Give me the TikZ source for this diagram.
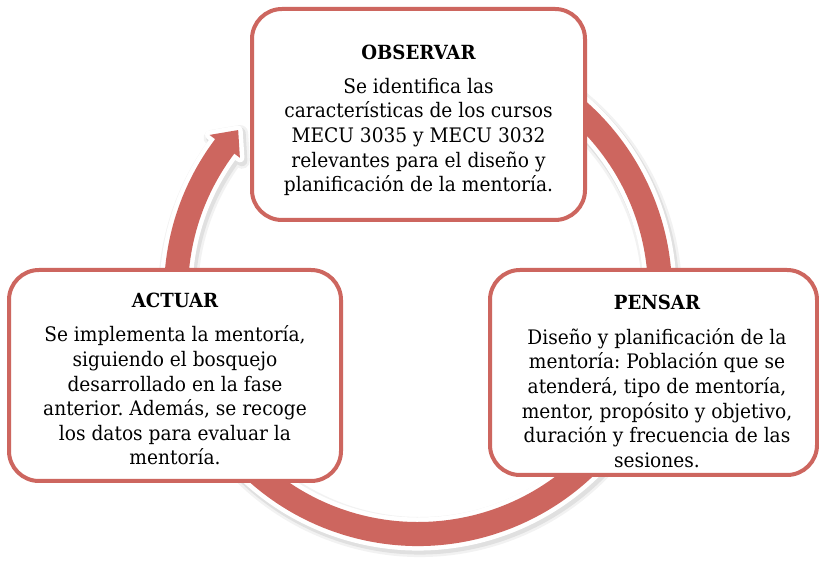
\documentclass[tikz,border=0pt]{standalone}
\usepackage{fontspec}
\setmainfont[FakeStretch=0.93]{DejaVu Serif}
\definecolor{ringred}{HTML}{CD665F}
\frenchspacing
\begin{document}
\frenchspacing
\begin{tikzpicture}[x=1pt,y=1pt,
  box/.style={draw=ringred, line width=4pt, rounded corners=30pt, fill=white, inner sep=0pt},
  txt/.style={align=center, font=\fontsize{20}{24.6}\selectfont\frenchspacing, inner sep=0pt},
  ringshape/.style={insert path={(70:254) arc[start angle=70,end angle=-217,radius=254] -- (-217:261) -- (-222:242) -- (-217:223) -- (-217:230) arc[start angle=-217,end angle=70,radius=230] -- cycle}}]
\useasboundingbox (0,0) rectangle (819,564);
\fill[white] (0,0) rectangle (819,564);
\begin{scope}[shift={(418,272)}]
  \begin{scope}[shift={(2,-3)}]
    \path[fill=black, fill opacity=0.05, draw=black, draw opacity=0.05, line width=16pt, line join=round, ringshape];
    \path[fill=black, fill opacity=0.07, draw=black, draw opacity=0.07, line width=11pt, line join=round, ringshape];
  \end{scope}
  \path[fill=white, draw=white, line width=9pt, line join=round, ringshape];
  \path[fill=ringred, ringshape];
\end{scope}
\node[box, minimum width=333pt, minimum height=211pt] (obs) at (418.5,449.5) {};
\node[box, minimum width=332pt, minimum height=211pt] (act) at (175,188.5) {};
\node[box, minimum width=327pt, minimum height=205pt] (pen) at (653.5,191.5) {};
\node[txt] (obst) at (418.5,443.5) {{\fontsize{19.5}{24.6}\selectfont\bfseries OBSERVAR}\\[9pt]
Se identifica las\\
características de los cursos\\
MECU 3035 y MECU 3032\\
relevantes para el diseño y\\
planificación de la mentoría.};
\node[txt] (actt) at (175,185) {{\fontsize{19.5}{24.6}\selectfont\bfseries ACTUAR}\\[10pt]
Se implementa la mentoría,\\
siguiendo el bosquejo\\
desarrollado en la fase\\
anterior. Además, se recoge\\
los datos para evaluar la\\
mentoría.};
\node[txt] (pent) at (657,182.5) {{\fontsize{19.5}{24.6}\selectfont\bfseries PENSAR}\\[10pt]
Diseño y planificación de la\\
mentoría: Población que se\\
atenderá, tipo de mentoría,\\
mentor, propósito y objetivo,\\
duración y frecuencia de las\\
sesiones.};
\end{tikzpicture}
\end{document}
